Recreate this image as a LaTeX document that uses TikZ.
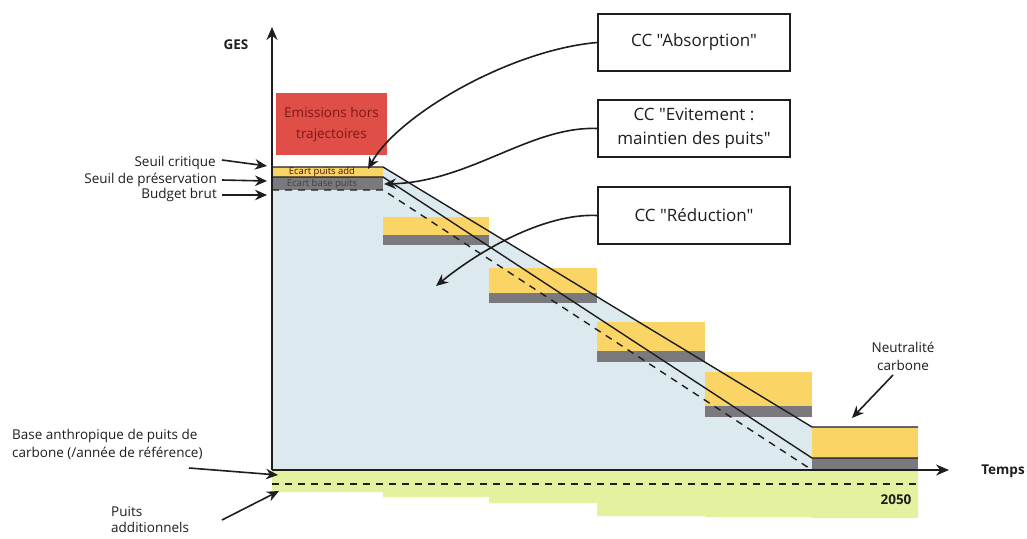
\documentclass[tikz,border=0pt]{standalone}
\usepackage{fontspec}
\setmainfont{Open Sans}
\newfontfamily\plainos{Open Sans}
\usetikzlibrary{arrows.meta}
\definecolor{skyb}{RGB}{220,233,239}
\definecolor{ylw}{RGB}{250,213,102}
\definecolor{gry}{RGB}{122,122,126}
\definecolor{grn}{RGB}{228,241,158}
\definecolor{redb}{RGB}{224,78,72}
\definecolor{redt}{RGB}{125,25,22}
\definecolor{ink}{RGB}{30,30,30}
\tikzset{
  lbl/.style={font=\fontsize{13.5}{18}\selectfont, text=ink, inner sep=0pt},
  bold/.style={font=\fontsize{13.5}{18}\selectfont\bfseries, text=ink, inner sep=0pt},
  ccbox/.style={draw=ink, line width=1.6pt, minimum width=192pt, minimum height=57pt, align=center, font=\plainos\fontsize{17}{24}\selectfont, text=ink, fill=white},
  arr/.style={draw=ink, line width=1.6pt, -{Stealth[length=12pt,width=10.5pt]}},
  axis/.style={draw=ink, line width=1.4pt, -{Stealth[length=13pt,width=11pt]}},
  traj/.style={draw=ink, line width=1.4pt},
  trajd/.style={draw=ink, line width=1.4pt, dash pattern=on 7pt off 6pt},
}
\begin{document}
\begin{tikzpicture}[x=1pt,y=-1pt]
\useasboundingbox[fill=white] (0,0) rectangle (1027,538);
% blue budget area
\fill[skyb] (272,470) -- (272,167) -- (383,167) -- (812,427) -- (812,470) -- cycle;
% green band (additional sinks)
\fill[grn] (272,470) -- (918,470) -- (918,518) -- (812,518) -- (812,517) -- (705,517) -- (705,516) -- (597,516) -- (597,503) -- (489,503) -- (489,497) -- (383,497) -- (383,492) -- (272,492) -- cycle;
\draw[trajd] (272,484) -- (918,484);
% steps
\fill[ylw] (272,167) rectangle (383,177);
\fill[gry] (272,177) rectangle (383,190);
\fill[ylw] (383,217) rectangle (489,235);
\fill[gry] (383,235) rectangle (489,245);
\fill[ylw] (489,268) rectangle (597,293);
\fill[gry] (489,293) rectangle (597,303);
\fill[ylw] (597,322) rectangle (705,351);
\fill[gry] (597,351) rectangle (705,362);
\fill[ylw] (705,372) rectangle (812,406);
\fill[gry] (705,406) rectangle (812,417);
\fill[ylw] (812,427) rectangle (918,458);
\fill[gry] (812,458) rectangle (918,470);
% trajectories
\draw[traj] (272,167) -- (383,167) -- (812,427) -- (918,427);
\draw[traj] (272,177) -- (383,177) -- (812,458) -- (918,458);
\draw[trajd] (272,190) -- (383,190) -- (812,470);
% axes
\coordinate (O) at (272,470);
\coordinate (ytop) at (272,27);
\coordinate (xend) at (949,470);
\draw[axis] (O) -- (ytop);
\draw[axis] (O) -- (xend);
\node[bold] (ges) at (236,45) {GES};
\node[bold] (temps) at (1003,471) {Temps};
\node[bold] (y2050) at (896,500) {2050};
% red box
\node[fill=redb, minimum width=111pt, minimum height=62pt, inner sep=0pt, align=center,
      font=\fontsize{13.5}{21}\selectfont, text=redt] (hors) at (331.5,124) {Emissions hors\\trajectoires};
% band labels
\node[inner sep=0pt, font=\fontsize{9.5}{10}\selectfont, text=redt!60!black] (epa) at (322,172) {Ecart puits add};
\node[inner sep=0pt, font=\fontsize{9.5}{10}\selectfont, text=black!75] (ebp) at (322,184) {Ecart base puits};
% left labels
\node[lbl, anchor=east] (crit) at (216,163) {Seuil critique};
\node[lbl, anchor=east] (pres) at (217,180) {Seuil de préservation};
\node[lbl, anchor=east] (brut) at (217,195) {Budget brut};
\coordinate (critT) at (267,166);
\coordinate (presT) at (267,181);
\coordinate (brutT) at (267,195);
\draw[arr] ([xshift=6pt,yshift=3pt]crit.east) -- (critT);
\draw[arr] ([xshift=5pt]pres.east) -- (presT);
\draw[arr] ([xshift=5pt]brut.east) -- (brutT);
\node[lbl, anchor=west, align=left] (base) at (12,444) {Base anthropique de puits de\\carbone (/année de référence)};
\coordinate (baseS) at (189,468);
\coordinate (baseT) at (278,475);
\draw[arr] (baseS) -- (baseT);
\node[lbl, anchor=west, align=left, font=\fontsize{13.5}{16}\selectfont] (puits) at (111,520) {Puits\\additionnels};
\coordinate (puitsS) at (222,520);
\coordinate (puitsT) at (279,491);
\draw[arr] (puitsS) -- (puitsT);
\node[lbl, align=center] (neutre) at (903,356) {Neutralité\\carbone};
\coordinate (neutS) at (893,375);
\coordinate (neutT) at (852,418);
\draw[arr] (neutS) -- (neutT);
% CC boxes
\node[ccbox] (abs) at (694,42.5) {CC "Absorption"};
\node[ccbox] (evit) at (694,128.5) {CC "Evitement :\\maintien des puits"};
\node[ccbox] (red) at (694,215.5) {CC "Réduction"};
\coordinate (absT) at (368,169);
\coordinate (evitT) at (384,184);
\coordinate (redT) at (436,286);
\draw[arr] (abs.west) .. controls (510,50) and (398,115) .. (absT);
\draw[arr] (evit.west) .. controls (530,126) and (470,182) .. (evitT);
\draw[arr] (red.west) .. controls (545,213) and (480,250) .. (redT);
\end{tikzpicture}
\end{document}
